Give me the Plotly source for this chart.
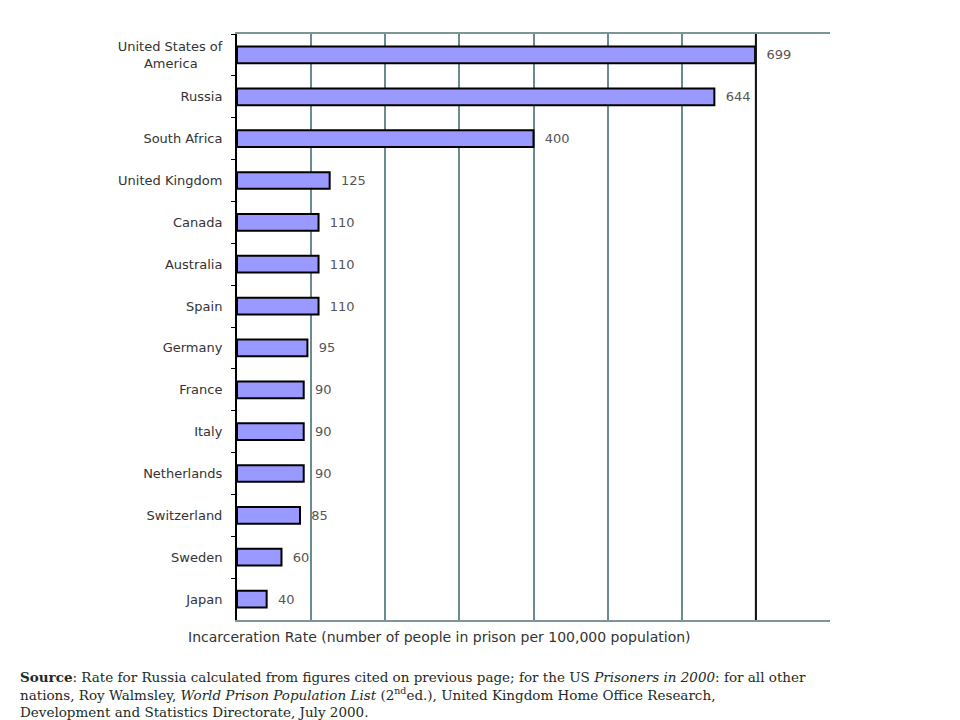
import plotly.graph_objects as go

countries = ["United States of<br>America" + "\u00a0" * 6, "Russia", "South Africa", "United Kingdom",
             "Canada", "Australia", "Spain", "Germany", "France", "Italy",
             "Netherlands", "Switzerland", "Sweden", "Japan"]
rates = [699, 644, 400, 125, 110, 110, 110, 95, 90, 90, 90, 85, 60, 40]

x_title = "Incarceration Rate (number of people in prison per 100,000 population)"
source_text = (
    "<b>Source</b>: Rate for Russia calculated from figures cited on previous page; "
    "for the US <i>Prisoners in 2000</i>: for all other<br>"
    "nations, Roy Walmsley, <i>World Prison Population List</i> (2<sup>nd</sup>ed.), "
    "United Kingdom Home Office Research,<br>"
    "Development and Statistics Directorate, July 2000."
)

# page is offset by the 8px body margin
OFF = 8
PL, PR, PT, PB = 237, 830, 34, 620
W, H = 960 - OFF, 720 - OFF


def px(xpix):
    return (xpix - PL) / (PR - PL)


def py(ypix):
    return (PB - ypix) / (PB - PT)


fig = go.Figure()
fig.add_trace(go.Bar(
    x=rates, y=countries, orientation="h",
    marker=dict(color="#9999FF", line=dict(color="#000000", width=2)),
    width=0.4,
    text=rates, texttemplate="  %{x}", textposition="outside",
    textfont=dict(family="DejaVu Sans", size=13, color="#555555"),
    cliponaxis=False,
))

fig.add_vline(x=700, line=dict(color="#111111", width=2), layer="above")

annotations = [
    dict(text=x_title, xref="paper", yref="paper",
         x=px(439), y=py(637), xanchor="center", yanchor="middle",
         showarrow=False,
         font=dict(family="DejaVu Sans", size=14, color="#333333")),
    dict(text=source_text, xref="paper", yref="paper",
         x=px(18), y=py(694.5), xanchor="left", yanchor="middle",
         align="left", showarrow=False,
         font=dict(family="DejaVu Serif", size=13.5, color="#1c2b24")),
]

fig.update_layout(
    width=W, height=H,
    margin=dict(l=PL - OFF, r=W - (PR - OFF), t=PT - OFF, b=H - (PB - OFF)),
    paper_bgcolor="white", plot_bgcolor="white",
    showlegend=False,
    xaxis=dict(range=[0, 800], dtick=100, showticklabels=False, ticks="",
               showgrid=True, gridcolor="#6a8c8c", gridwidth=1.5,
               zeroline=False, showline=True, linecolor="#7a9696", linewidth=2, mirror=True),
    yaxis=dict(autorange="reversed", showgrid=False, zeroline=False,
               showline=True, linecolor="#000000", linewidth=2,
               ticks="outside", tickson="boundaries", ticklen=4, tickcolor="#000000",
               ticklabelstandoff=10,
               tickfont=dict(family="DejaVu Sans", size=13, color="#333333")),
    annotations=annotations,
)

fig.write_html("out.html")
